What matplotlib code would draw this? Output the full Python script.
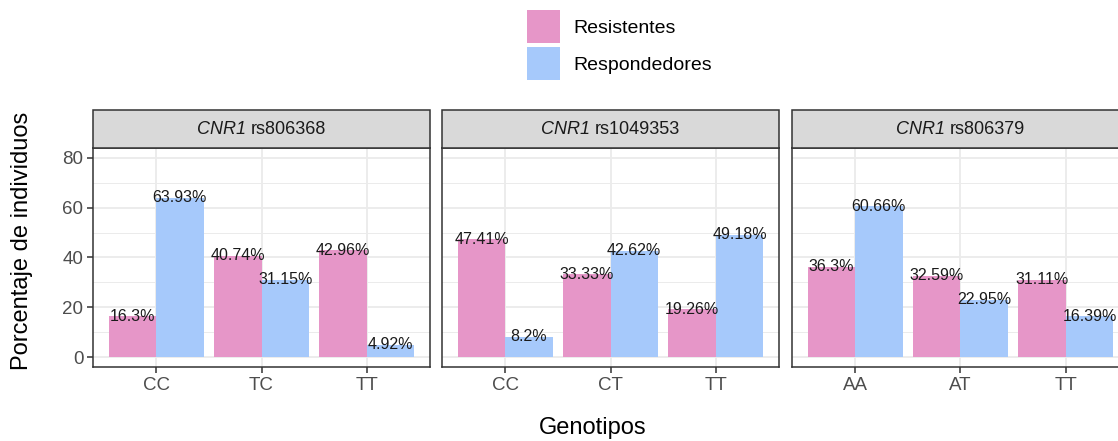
import numpy as np
import matplotlib.pyplot as plt
from matplotlib.patches import Patch, Rectangle

plt.rcParams['font.family'] = ['Liberation Sans', 'DejaVu Sans']

# datos
paneles = ["rs806368", "rs1049353", "rs806379"]
gen = "CNR1"
genotipos = [["CC", "TC", "TT"], ["CC", "CT", "TT"], ["AA", "AT", "TT"]]
resistentes = [[16.3, 40.74, 42.96], [47.41, 33.33, 19.26], [36.3, 32.59, 31.11]]
respondedores = [[63.93, 31.15, 4.92], [8.2, 42.62, 49.18], [60.66, 22.95, 16.39]]
grupos = ["Resistentes", "Respondedores"]

col_res = "#E696C8"
col_resp = "#A6C9FB"

W, H = 1118, 441
fig = plt.figure(figsize=(W / 100, H / 100), dpi=100)
renderer = fig.canvas.get_renderer()

left_px = [93, 442, 792]
pw = 337
top, bottom = 148, 367
strip_top = 110

for i in range(3):
    ax = fig.add_axes([left_px[i] / W, 1 - bottom / H, pw / W, (bottom - top) / H])
    x = np.arange(1, 4)
    ax.bar(x - 0.225, resistentes[i], width=0.45, color=col_res, zorder=2)
    ax.bar(x + 0.225, respondedores[i], width=0.45, color=col_resp, zorder=2)
    for xi, v in zip(x, resistentes[i]):
        ax.text(xi - 0.225, v, f"{v:g}%", ha="center", va="center", fontsize=11.5, color="#1A1A1A", zorder=3)
    for xi, v in zip(x, respondedores[i]):
        ax.text(xi + 0.225, v, f"{v:g}%", ha="center", va="center", fontsize=11.5, color="#1A1A1A", zorder=3)

    ax.set_xlim(0.4, 3.6)
    ax.set_ylim(-4, 84)
    ax.set_xticks(x)
    ax.set_xticklabels(genotipos[i])
    ax.set_yticks([0, 20, 40, 60, 80])
    ax.set_yticks([10, 30, 50, 70], minor=True)
    ax.tick_params(axis="both", which="major", labelsize=13.5, labelcolor="#4D4D4D",
                   color="#333333", length=4, width=1.1, pad=3)
    ax.tick_params(axis="y", which="minor", length=0)
    if i > 0:
        ax.tick_params(axis="y", which="both", left=False, labelleft=False)
    ax.grid(True, which="major", color="#EBEBEB", linewidth=1.3, zorder=0)
    ax.grid(True, which="minor", axis="y", color="#EBEBEB", linewidth=0.7, zorder=0)
    ax.set_axisbelow(True)
    for s in ax.spines.values():
        s.set_color("#333333")
        s.set_linewidth(1.1)

    # tira del panel (gen en cursiva + SNP)
    fig.patches.append(Rectangle((left_px[i] / W, 1 - top / H), pw / W, (top - strip_top) / H,
                                 transform=fig.transFigure, facecolor="#D9D9D9",
                                 edgecolor="#333333", linewidth=1.1))
    t1 = fig.text(0, 1 - 129 / H, gen + " ", style="italic", ha="left", va="center",
                  fontsize=13, color="#1A1A1A")
    t2 = fig.text(0, 1 - 129 / H, paneles[i], ha="left", va="center",
                  fontsize=13, color="#1A1A1A")
    w1 = t1.get_window_extent(renderer).width
    w2 = t2.get_window_extent(renderer).width
    x0 = left_px[i] + pw / 2 - (w1 + w2) / 2
    t1.set_x(x0 / W)
    t2.set_x((x0 + w1) / W)

fig.text(22 / W, 1 - 241 / H, "Porcentaje de individuos", rotation=90,
         ha="center", va="center", fontsize=17)
fig.text(593 / W, 1 - 428 / H, "Genotipos", ha="center", va="center", fontsize=17)

handles = [Patch(facecolor=col_res), Patch(facecolor=col_resp)]
fig.legend(handles, grupos, loc="upper left", bbox_to_anchor=(527 / W, 1 - 10 / H),
           frameon=False, fontsize=14, handlelength=1.7, handleheight=2.25,
           labelspacing=0.2, handletextpad=0.7, borderpad=0, borderaxespad=0)

plt.savefig("out.png", dpi=100)
